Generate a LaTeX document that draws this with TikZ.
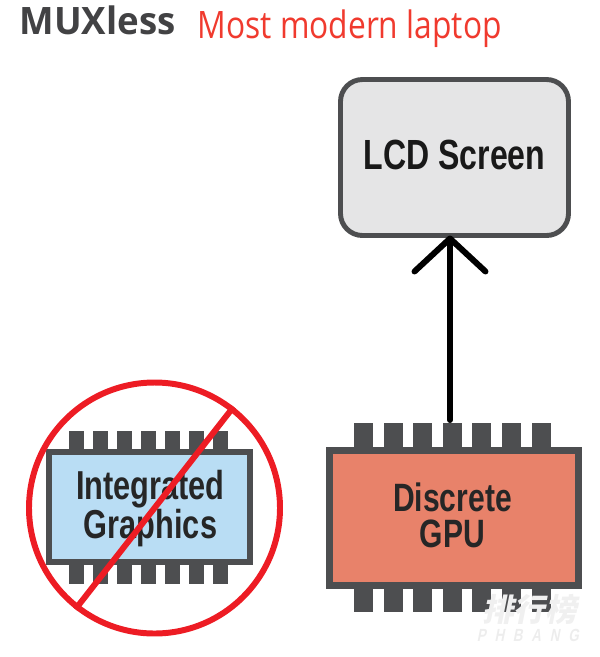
\documentclass[tikz,border=0pt]{standalone}
\usepackage{fontspec}
\usetikzlibrary{arrows.meta}
\newfontfamily\chipfont[FakeStretch=0.76]{Liberation Sans}
\newfontfamily\muxfont[FakeStretch=0.97]{Open Sans}
\newfontfamily\titlefont[FakeStretch=0.84]{Open Sans}
\newfontfamily\markfont{Noto Sans CJK SC}
\definecolor{chipgrey}{HTML}{4D4E50}
\definecolor{nored}{HTML}{ED1C24}
\definecolor{titlered}{HTML}{F03A2E}
\definecolor{igpublue}{HTML}{B9DDF4}
\definecolor{dgpuorange}{HTML}{E8826A}
\definecolor{lcdgrey}{HTML}{E5E5E6}
\begin{document}
\begin{tikzpicture}[
		x=0.2mm, y=-0.2mm, line width=0.8pt,
		>={Straight Barb[length=6.6mm, width=14.2mm, round]},
		chip/.style={rectangle, draw=chipgrey, inner sep=0pt, outer sep=0pt},
		chiptesto/.style={inner sep=0pt, align=center, text=black!85,
			font=\chipfont\bfseries\fontsize{#1}{20.6}\selectfont},
		pin/.style={fill=chipgrey},
		schermo/.style={rectangle, rounded corners=4.4mm, draw=chipgrey, fill=lcdgrey,
			line width=2.8pt, inner sep=0pt, outer sep=0pt,
			minimum width=45.6mm, minimum height=31.2mm, text height=17.5pt, text depth=3.4pt,
			font=\chipfont\bfseries\fontsize{24}{26}\selectfont, text=black!90},
		freccia/.style={->, black, line width=3.4pt, line cap=round},
		divieto/.style={circle, draw=nored, line width=3.4pt, inner sep=0pt, minimum size=50.2mm},
		titolo/.style={anchor=base west, inner sep=0pt},
		marchio/.style={inner sep=0pt, text=white!94!black, xslant=0.2}]

	\useasboundingbox (0,0) rectangle (600,657);

	%% --- titoli ---
	\node[titolo, text=chipgrey!85!black, font=\muxfont\bfseries\fontsize{21.5}{24}\selectfont] (mux) at (19,34.5) {MUXless};
	\node[titolo, text=titlered, font=\titlefont\fontsize{21.5}{24}\selectfont] (modern) at (197,38) {Most modern laptop};

	%% --- schermo ---
	\node[schermo] (lcd) at (454.5,157.5) {LCD Screen};

	%% --- piedini dei due chip ---
	\foreach \i in {0,...,6} {
		\pgfmathsetmacro{\xI}{69+24*\i}
		\fill[pin] (\xI,431) rectangle (\xI+15,584);
		\pgfmathsetmacro{\xD}{354+29.6*\i}
		\fill[pin] (\xD,423) rectangle (\xD+19,612);
	}

	%% --- chip ---
	\node[chip, fill=igpublue, line width=3.4pt, minimum width=40.2mm, minimum height=22mm] (igpu) at (149.5,507) {};
	\node[chip, fill=dgpuorange, line width=4pt, minimum width=49.8mm, minimum height=27mm] (dgpu) at (454,518) {};
	\node[chiptesto=23] (igputesto) at (150.5,508.5) {Integrated\\Graphics};
	\node[chiptesto=22.5] (dgputesto) at (452.5,515) {Discrete\\GPU};

	%% --- freccia ---
	\coordinate (uscita) at (450,420);
	\draw[freccia] (uscita) -- (uscita |- lcd.south);

	%% --- divieto sopra la grafica integrata ---
	\node[divieto] (noigpu) at (154.5,508) {};
	\draw[nored, line width=3.4pt] (noigpu.52.6) -- (noigpu.232.6);

	%% --- marchio ---
	\node[marchio, font=\markfont\bfseries\fontsize{18}{20}\selectfont] (mark) at (532,609) {排行榜};
	\node[marchio, text=black!7, font=\chipfont\bfseries\fontsize{10}{11}\selectfont] (markb) at (529,635) {P\kern5pt H\kern5pt B\kern5pt A\kern5pt N\kern5pt G};

\end{tikzpicture}
\end{document}
